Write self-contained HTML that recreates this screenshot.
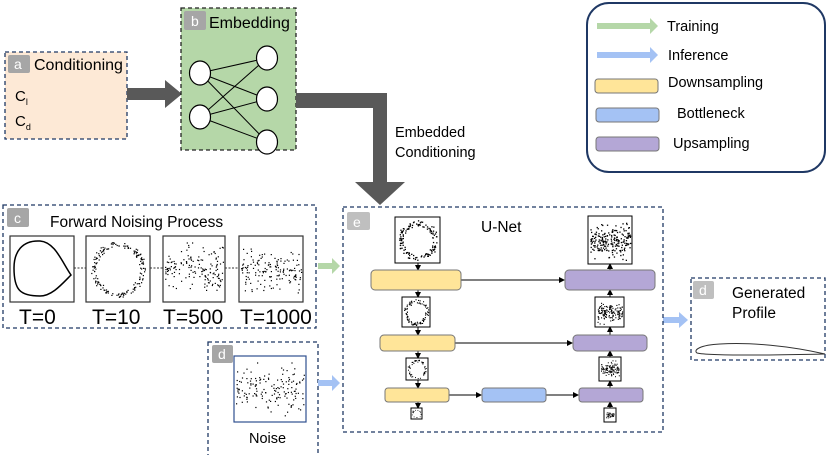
<!DOCTYPE html>
<html><head><meta charset="utf-8"><style>
html,body{margin:0;padding:0;background:#fff;}
svg{display:block;font-family:"Liberation Sans",Arial,sans-serif;}
</style></head><body>
<svg id="s" width="830" height="455" viewBox="0 0 830 455" xmlns="http://www.w3.org/2000/svg">
<defs>
<marker id="ah" markerWidth="6" markerHeight="6" refX="5" refY="3" orient="auto"><path d="M0,0 L6,3 L0,6 z" fill="#000"/></marker>
</defs>
<!-- a -->
<rect x="5" y="52" width="122" height="87" fill="#fde9d6" stroke="#1f3864" stroke-dasharray="4,3" stroke-width="1.3"/>
<rect x="8" y="55" width="22" height="18" rx="2" fill="#a6a6a6"/>
<text x="14" y="69" font-size="14" fill="#fff">a</text>
<text x="34" y="70" font-size="16">Conditioning</text>
<text x="15" y="101" font-size="15">C<tspan font-size="9" dy="4">l</tspan></text>
<text x="15" y="126" font-size="15">C<tspan font-size="9" dy="4">d</tspan></text>
<!-- arrow a->b -->
<polygon points="127,88 165,88 165,80 182,94 165,108 165,100 127,100" fill="#595959"/>
<!-- b -->
<rect x="181" y="8" width="115" height="142" fill="#b5d7a8" stroke="#222" stroke-dasharray="4,3" stroke-width="1.3"/>
<rect x="184" y="11" width="22" height="19" rx="2" fill="#a6a6a6"/>
<text x="191" y="26" font-size="14" fill="#fff">b</text>
<text x="209" y="28" font-size="16">Embedding</text>
<g stroke="#000" stroke-width="1">
<line x1="200" y1="73" x2="267" y2="58"/><line x1="200" y1="73" x2="267" y2="99"/><line x1="200" y1="73" x2="267" y2="142"/>
<line x1="200" y1="117" x2="267" y2="58"/><line x1="200" y1="117" x2="267" y2="99"/><line x1="200" y1="117" x2="267" y2="142"/>
</g>
<g fill="#fff" stroke="#000" stroke-width="1.2">
<ellipse cx="200" cy="73" rx="10.5" ry="12"/><ellipse cx="200" cy="117" rx="10.5" ry="12"/>
<ellipse cx="267" cy="58" rx="10.5" ry="12"/><ellipse cx="267" cy="99" rx="10.5" ry="12"/><ellipse cx="267" cy="142" rx="10.5" ry="12"/>
</g>
<!-- big arrow -->
<polygon points="296,93 387,93 387,182 405,182 380,205 355,182 373,182 373,108 296,108" fill="#595959"/>
<text x="395" y="137" font-size="14.5">Embedded</text>
<text x="395" y="157" font-size="14.5">Conditioning</text>
<!-- legend -->
<rect x="587" y="3" width="238" height="169" rx="22" fill="#fff" stroke="#1f3864" stroke-width="2"/>
<polygon points="597,23 650,23 650,18 658,26 650,34 650,29 597,29" fill="#b5d7a8"/>
<text x="667" y="31" font-size="14.5">Training</text>
<polygon points="597,52 650,52 650,47 658,55 650,63 650,58 597,58" fill="#a4c2f4"/>
<text x="668" y="60" font-size="14.5">Inference</text>
<rect x="595" y="79" width="63" height="14" rx="3" fill="#ffe599" stroke="#777"/>
<text x="668" y="87" font-size="14.5">Downsampling</text>
<rect x="596" y="108" width="63" height="14" rx="3" fill="#a4c2f4" stroke="#777"/>
<text x="677" y="118" font-size="14.5">Bottleneck</text>
<rect x="596" y="137" width="63" height="14" rx="3" fill="#b4a7d6" stroke="#777"/>
<text x="673" y="148" font-size="14.5">Upsampling</text>
<!-- c -->
<rect x="3" y="205" width="313" height="123" fill="#fff" stroke="#1f3864" stroke-dasharray="4,3" stroke-width="1.3"/>
<rect x="7" y="208" width="22" height="19" rx="2" fill="#a6a6a6"/>
<text x="14" y="223" font-size="14" fill="#fff">c</text>
<text x="50" y="227" font-size="15.5">Forward Noising Process</text>
<g stroke="#333" stroke-dasharray="2,1.5"><line x1="74" y1="268" x2="86" y2="268"/><line x1="150" y1="268" x2="163" y2="268"/><line x1="225" y1="268" x2="239" y2="268"/></g>
<rect x="10" y="236" width="64" height="66" fill="#fff" stroke="#333" stroke-width="1.2"/>
<path d="M40,241 C22,240 14,252 14,268 C14,290 20,296 40,296 C52,296 62,284 71,275 C62,262 55,242 40,241 Z" fill="none" stroke="#000" stroke-width="1.5"/>
<rect x="86" y="236" width="64" height="66" fill="#fff" stroke="#333" stroke-width="1.2"/>
<rect x="163" y="236" width="62" height="66" fill="#fff" stroke="#333" stroke-width="1.2"/>
<rect x="239" y="236" width="64" height="66" fill="#fff" stroke="#333" stroke-width="1.2"/>
<g font-size="21"><text x="19" y="324">T=0</text><text x="92" y="324">T=10</text><text x="163" y="324">T=500</text><text x="240" y="324">T=1000</text></g>
<!-- d noise -->
<rect x="208" y="342" width="110" height="116" fill="#fff" stroke="#1f3864" stroke-dasharray="4,3" stroke-width="1.3"/>
<rect x="212" y="345" width="21" height="18" rx="2" fill="#a6a6a6"/>
<text x="218" y="359" font-size="14" fill="#fff">d</text>
<rect x="234" y="356" width="72" height="66" fill="#fff" stroke="#2f4f8f" stroke-width="1.2"/>
<text x="249" y="443" font-size="14.5">Noise</text>
<!-- side arrows -->
<polygon points="318,263 332,263 332,258 340,266 332,274 332,269 318,269" fill="#b5d7a8"/>
<polygon points="318,380 332,380 332,375 340,383 332,391 332,386 318,386" fill="#a4c2f4"/>
<polygon points="663,317 679,317 679,312 688,320 679,328 679,323 663,323" fill="#a4c2f4"/>
<!-- e -->
<rect x="343" y="207" width="320" height="225" fill="#fff" stroke="#1f3864" stroke-dasharray="4,3" stroke-width="1.3"/>
<rect x="347" y="212" width="23" height="18" rx="2" fill="#bfbfbf"/>
<text x="353" y="227" font-size="14" fill="#fff">e</text>
<text x="481" y="232" font-size="15.5">U-Net</text>
<g stroke="#000" stroke-width="1" marker-end="url(#ah)">
<line x1="418" y1="263" x2="418" y2="270"/><line x1="418" y1="290" x2="418" y2="297"/><line x1="418" y1="327" x2="418" y2="335"/>
<line x1="418" y1="351" x2="418" y2="358"/><line x1="418" y1="380" x2="418" y2="388"/><line x1="418" y1="402" x2="418" y2="408"/>
<line x1="610" y1="270" x2="610" y2="264"/><line x1="610" y1="297" x2="610" y2="290"/><line x1="610" y1="335" x2="610" y2="327"/>
<line x1="610" y1="357" x2="610" y2="351"/><line x1="610" y1="388" x2="610" y2="381"/><line x1="610" y1="408" x2="610" y2="402"/>
<line x1="461" y1="280" x2="564" y2="280"/><line x1="455" y1="343" x2="572" y2="343"/>
<line x1="449" y1="395" x2="481" y2="395"/><line x1="546" y1="395" x2="578" y2="395"/>
</g>
<rect x="371" y="270" width="90" height="20" rx="4" fill="#ffe599" stroke="#777"/>
<rect x="380" y="335" width="75" height="16" rx="4" fill="#ffe599" stroke="#777"/>
<rect x="385" y="388" width="64" height="14" rx="3" fill="#ffe599" stroke="#777"/>
<rect x="482" y="388" width="64" height="14" rx="3" fill="#a4c2f4" stroke="#777"/>
<rect x="565" y="270" width="90" height="20" rx="4" fill="#b4a7d6" stroke="#777"/>
<rect x="573" y="335" width="74" height="16" rx="4" fill="#b4a7d6" stroke="#777"/>
<rect x="579" y="388" width="64" height="14" rx="3" fill="#b4a7d6" stroke="#777"/>
<g fill="#fff" stroke="#000">
<rect x="395" y="217" width="45" height="46"/><rect x="402" y="297" width="28" height="30"/><rect x="406" y="358" width="22" height="22"/><rect x="411" y="408" width="11" height="11"/>
<rect x="588" y="216" width="44" height="48"/><rect x="595" y="297" width="29" height="30"/><rect x="599" y="357" width="22" height="24"/><rect x="604" y="408" width="12" height="14"/>
</g>
<!-- gen -->
<rect x="691" y="278" width="134" height="82" fill="#fff" stroke="#1f3864" stroke-dasharray="4,3" stroke-width="1.3"/>
<rect x="693" y="281" width="21" height="18" rx="2" fill="#bfbfbf"/>
<text x="699" y="295" font-size="14" fill="#fff">d</text>
<text x="732" y="298" font-size="15.5">Generated</text>
<text x="732" y="318" font-size="15.5">Profile</text>
<path d="M825,354 C790,346 750,342 720,344 C700,345 693,350 697,353 C710,356 780,355 825,354 Z" fill="none" stroke="#333" stroke-width="1"/>
<g id="dots" fill="#000"></g>
</svg>
<script>
(function(){
var g=document.getElementById('dots'),seed=7;
function r(){seed=(seed*16807)%2147483647;return seed/2147483647;}
function dot(x,y,s){var c=document.createElementNS('http://www.w3.org/2000/svg','rect');c.setAttribute('x',x.toFixed(1));c.setAttribute('y',y.toFixed(1));c.setAttribute('width',s);c.setAttribute('height',s);g.appendChild(c);}
function ring(x,y,w,h,n,noise,s){for(var i=0;i<n;i++){var t=r()*6.283;var cx=x+w/2+Math.cos(t)*w*0.38+(r()-0.5)*noise*w;var cy=y+h/2+Math.sin(t)*h*0.38+(r()-0.5)*noise*h;dot(cx,cy,s);}}
function rnd(x,y,w,h,n,s){for(var i=0;i<n;i++){var u=r(),v=(r()+r()+r())/3;dot(x+2+u*(w-4),y+2+v*(h-4),s);}}
ring(86,236,64,66,170,0.08,1.2);
rnd(163,236,62,66,150,1.2);rnd(239,236,64,66,150,1.2);rnd(234,356,72,66,150,1.2);
ring(395,217,45,46,130,0.12,1.3);ring(402,297,28,30,90,0.12,1.1);ring(406,358,22,22,50,0.1,1);ring(411,408,11,11,18,0.1,0.8);
rnd(588,216,44,48,200,1.3);rnd(595,297,29,30,140,1.1);rnd(599,357,22,24,110,1);rnd(604,408,12,14,50,0.8);
})();
</script>
</body></html>
